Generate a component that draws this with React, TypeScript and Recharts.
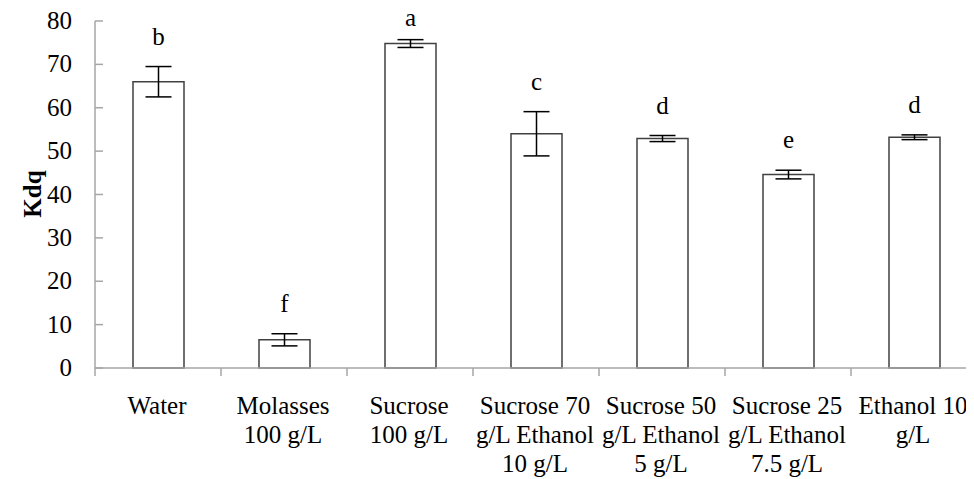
import React from 'react';
import { BarChart, Bar, XAxis, YAxis, ErrorBar, LabelList } from 'recharts';

const categories = [
  'Water',
  'Molasses 100 g/L',
  'Sucrose 100 g/L',
  'Sucrose 70 g/L Ethanol 10 g/L',
  'Sucrose 50 g/L Ethanol 5 g/L',
  'Sucrose 25 g/L Ethanol 7.5 g/L',
  'Ethanol 10 g/L',
];
const tickLines = [
  ['Water'],
  ['Molasses', '100 g/L'],
  ['Sucrose', '100 g/L'],
  ['Sucrose 70', 'g/L Ethanol', '10 g/L'],
  ['Sucrose 50', 'g/L Ethanol', '5 g/L'],
  ['Sucrose 25', 'g/L Ethanol', '7.5 g/L'],
  ['Ethanol 10', 'g/L'],
];
const kdq = [66, 6.5, 74.8, 54, 52.9, 44.6, 53.2];
const sd = [3.5, 1.4, 0.9, 5.1, 0.7, 1.0, 0.55];
const letters = ['b', 'f', 'a', 'c', 'd', 'e', 'd'];
const yTicks = [0, 10, 20, 30, 40, 50, 60, 70, 80];

const data = categories.map((name, i) => ({
  name,
  kdq: kdq[i],
  sd: sd[i],
  letter: letters[i],
}));

const FONT = "'Liberation Serif', 'DejaVu Serif', serif";
const TXT = { fontFamily: FONT, fontSize: 25, fill: '#000' };
const AXIS = '#a6a6a6';
const BAND = 126;

const XTick = (props: any) => {
  const { x, y, payload, index } = props;
  const lines = tickLines[index] || [payload.value];
  return (
    <g>
      <line x1={x - BAND / 2} y1={y} x2={x - BAND / 2} y2={y + 8} stroke={AXIS} strokeWidth={1.5} />
      {lines.map((l: string, i: number) => (
        <text key={i} x={x - 1} y={y + 46 + i * 29} textAnchor="middle" style={TXT}>
          {l}
        </text>
      ))}
    </g>
  );
};

const YTick = (props: any) => {
  const { x, y, payload } = props;
  return (
    <g>
      <line x1={x} y1={y} x2={x + 8} y2={y} stroke={AXIS} strokeWidth={1.5} />
      <text x={x - 23} y={y + 8} textAnchor="end" style={TXT}>
        {payload.value}
      </text>
    </g>
  );
};

const Letter = (props: any) => {
  const { x, y, width, height, value, index } = props;
  const errPx = (sd[index] * height) / kdq[index];
  const base = Math.max(26, y - errPx - 22);
  return (
    <text x={x + width / 2} y={base} textAnchor="middle" style={TXT}>
      {value}
    </text>
  );
};

const YLabel = () => (
  <text x={24} y={194} transform="rotate(-90 24 194)" textAnchor="middle" dominantBaseline="central" style={{ ...TXT, fontWeight: 'bold' }}>
    Kdq
  </text>
);

export default function App() {
  return (
    <div style={{ width: 966, height: 479, marginTop: -8, overflow: 'hidden' }}>
      <BarChart width={969} height={479} data={data} margin={{ top: 21, right: 0, left: 0, bottom: 0 }}>
        <XAxis
          dataKey="name"
          interval={0}
          height={111}
          axisLine={{ stroke: AXIS, strokeWidth: 1.5 }}
          tickLine={false}
          tickSize={0}
          tickMargin={0}
          tick={<XTick />}
        />
        <YAxis
          width={87}
          domain={[0, 80]}
          ticks={yTicks}
          interval={0}
          axisLine={{ stroke: AXIS, strokeWidth: 1.5 }}
          tickLine={false}
          tickSize={0}
          tickMargin={0}
          tick={<YTick />}
          label={<YLabel />}
        />
        <Bar dataKey="kdq" barSize={51} fill="#fff" stroke="#404040" strokeWidth={1.5} isAnimationActive={false}>
          <ErrorBar dataKey="sd" width={13} stroke="#000" strokeWidth={1.5} direction="y" />
          <LabelList dataKey="letter" content={<Letter />} />
        </Bar>
      </BarChart>
    </div>
  );
}
